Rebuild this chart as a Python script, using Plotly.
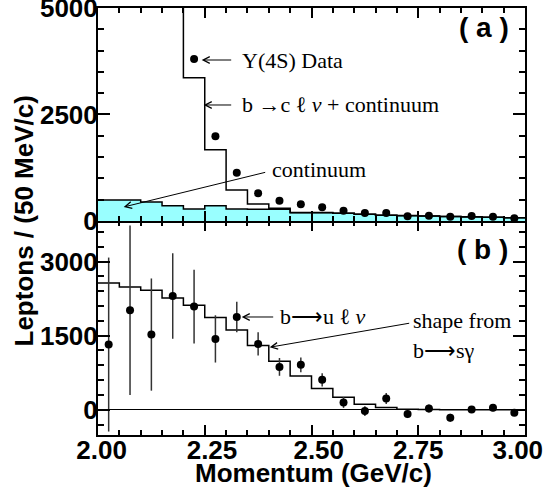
import plotly.graph_objects as go

# ---- data -------------------------------------------------------------
momentum = [2.025, 2.075, 2.125, 2.175, 2.225, 2.275, 2.325, 2.375, 2.425, 2.475,
            2.525, 2.575, 2.625, 2.675, 2.725, 2.775, 2.825, 2.875, 2.925, 2.975]
bin_width = 0.05

# panel (a)
data_4s = [None, None, None, None, 3803, 1988, 1134, 652, 478, 393,
           323, 243, 188, 188, 110, 125, 101, 118, 101, 64]
bclnu_plus_cont = [14000, 12000, 9000, 6500, 3364, 1674, 728, 399, 298, 198,
                   198, 183, 160, 137, 128, 118, 108, 98, 88, 78]
continuum = [495, 495, 447, 360, 283, 360, 283, 278, 278, 196,
             196, 180, 157, 134, 125, 115, 105, 95, 85, 75]

# panel (b)
bulnu = [1320, 2013, 1522, 2302, 2088, 1434, 1878, 1333, 868, 909,
         606, 149, -26, 229, -87, 27, -161, 7, 40, -60]
bulnu_err = [1760, 1716, 1135, 865, 747, 478, 310, 236, 180, 150,
             135, 110, 100, 110, 80, 80, 80, 70, 70, 60]
bsgamma_shape = [2564, 2483, 2417, 2262, 2114, 1865, 1615, 1300, 983, 686,
                 432, 256, 114, 47, 12, 6, 3, 2, 1, 0]

x_ticks = [2.00, 2.25, 2.50, 2.75, 3.00]
NB = "\u00a0"
x_tick_text = [NB + "2.00", NB * 2 + "2.25", NB * 2 + "2.50", "2.75", "3.00" + NB * 2]

# ---- helpers ----------------------------------------------------------
edges = [m - bin_width / 2 for m in momentum] + [momentum[-1] + bin_width / 2]


def steps(vals):
    return edges, list(vals) + [vals[-1]]


SANS = "Liberation Sans"
SERIF = "Liberation Serif"

fig = go.Figure()

# panel (a)
sx, sy = steps(continuum)
fig.add_trace(go.Scatter(x=sx, y=sy, mode="lines", line=dict(color="black", width=1.5, shape="hv"),
                         fill="tozeroy", fillcolor="#99ffff", xaxis="x2", yaxis="y2", showlegend=False))
sx, sy = steps(bclnu_plus_cont)
fig.add_trace(go.Scatter(x=sx, y=sy, mode="lines", line=dict(color="black", width=1.5, shape="hv"),
                         xaxis="x2", yaxis="y2", showlegend=False))
fig.add_trace(go.Scatter(x=momentum, y=data_4s, mode="markers", marker=dict(color="black", size=8),
                         xaxis="x2", yaxis="y2", showlegend=False, cliponaxis=True))

# panel (b)
sx, sy = steps(bsgamma_shape)
fig.add_trace(go.Scatter(x=sx, y=sy, mode="lines", line=dict(color="black", width=1.5, shape="hv"),
                         xaxis="x", yaxis="y", showlegend=False))
fig.add_trace(go.Scatter(x=momentum, y=bulnu, mode="markers", marker=dict(color="black", size=8),
                         error_y=dict(type="data", array=bulnu_err, color="#333333", thickness=1.5, width=0),
                         xaxis="x", yaxis="y", showlegend=False, cliponaxis=True))

split = 0.5012
tick_font = dict(family=SANS, size=26, color="black", weight="bold")
axis_common = dict(showline=True, linecolor="black", linewidth=2, mirror="ticks", automargin=False,
                   ticklabeloverflow="allow",
                   ticks="inside", tickcolor="black", tickwidth=1.5, showgrid=False)

fig.update_layout(
    width=547, height=497,
    margin=dict(l=98, r=22, t=8, b=62),
    paper_bgcolor="white", plot_bgcolor="white",
    xaxis=dict(range=[2.0, 3.0], domain=[0, 1], anchor="y", tickvals=x_ticks, ticktext=x_tick_text,
               ticklen=10, tickfont=tick_font, zeroline=False, ticklabelstandoff=-9,
               minor=dict(dtick=0.05, tick0=2.0, ticklen=5, ticks="inside", tickcolor="black", tickwidth=1.5),
               **axis_common),
    yaxis=dict(range=[-510, 3820], domain=[0, split], anchor="x", tickvals=[0, 1500, 3000],
               ticklen=12, tickfont=tick_font, ticklabelstandoff=-7,
               zeroline=True, zerolinecolor="black", zerolinewidth=1,
               minor=dict(dtick=300, tick0=0, ticklen=6, ticks="inside", tickcolor="black", tickwidth=1.5),
               **axis_common),
    xaxis2=dict(range=[2.0, 3.0], domain=[0, 1], anchor="y2", tickvals=x_ticks, showticklabels=False,
                ticklen=10, zeroline=False,
                minor=dict(dtick=0.05, tick0=2.0, ticklen=5, ticks="inside", tickcolor="black", tickwidth=1.5),
                **axis_common),
    yaxis2=dict(range=[0, 5000], domain=[split, 1], anchor="x2", tickvals=[0, 2500, 5000],
                ticklen=12, tickfont=tick_font, ticklabelstandoff=-7, zeroline=False,
                minor=dict(dtick=500, tick0=0, ticklen=6, ticks="inside", tickcolor="black", tickwidth=1.5),
                **axis_common),
)


def px2gev(px):
    return 2.0 + (px - 98.3) / 427.0


def py2a(py):
    return (221.0 - py) / 0.0426


def py2b(py):
    return (409.7 - py) * 20.19


ann = []


def arrow(x_tip, y_tip, x_tail, y_tail, xr, yr):
    ann.append(dict(x=x_tip, y=y_tip, ax=x_tail, ay=y_tail, xref=xr, yref=yr, axref=xr, ayref=yr,
                    text="", showarrow=True, arrowhead=5, arrowsize=1.3, arrowwidth=1, arrowcolor="black"))


def label(x, y, text, xr, yr, font, xanchor="left"):
    ann.append(dict(x=x, y=y, xref=xr, yref=yr, text=text, showarrow=False,
                    xanchor=xanchor, yanchor="middle", font=font))


serif = dict(family=SERIF, size=22, color="black")
bold = dict(family=SANS, size=28, color="black", weight="bold")

# panel (a) labels
arrow(px2gev(202), py2a(60), px2gev(233), py2a(60), "x2", "y2")
label(px2gev(240), py2a(60), "Υ(4S) Data", "x2", "y2", serif)
arrow(px2gev(204), py2a(105), px2gev(233), py2a(105), "x2", "y2")
label(px2gev(240), py2a(105), "b <b>→</b>c ℓ <i>ν</i> + continuum", "x2", "y2", serif)
arrow(px2gev(124), py2a(207), px2gev(267), py2a(172), "x2", "y2")
label(px2gev(270), py2a(170), "continuum", "x2", "y2", serif)
label(px2gev(511), py2a(27), "( a )", "x2", "y2", bold, xanchor="right")

# panel (b) labels
label(px2gev(510), py2b(249), "( b )", "x", "y", bold, xanchor="right")
arrow(px2gev(242), py2b(316.7), px2gev(275), py2b(316.7), "x", "y")
label(px2gev(278), py2b(316.7), "b⟶u ℓ <i>ν</i>", "x", "y", serif)
arrow(px2gev(270), py2b(347), px2gev(411), py2b(322.7), "x", "y")
label(px2gev(411), py2b(320.5), "shape from", "x", "y", serif)
label(px2gev(411), py2b(350.5), "b⟶sγ", "x", "y", serif)

# axis titles
ann.append(dict(x=(23 - 98) / 427, y=0.5, xref="paper", yref="paper", text="Leptons / (50 MeV/c)",
                textangle=-90, showarrow=False, xanchor="center", yanchor="middle",
                font=dict(family=SANS, size=26, color="black", weight="bold")))
ann.append(dict(x=(313.9 - 98.3) / 427, y=(435 - 473) / 427, xref="paper", yref="paper",
                text="Momentum (GeV/c)", showarrow=False, xanchor="center", yanchor="middle",
                font=dict(family=SANS, size=26, color="black", weight="bold")))

fig.update_layout(annotations=ann)
fig.write_html("out.html", config={"displayModeBar": False},
               post_script="document.body.style.margin='0';")
